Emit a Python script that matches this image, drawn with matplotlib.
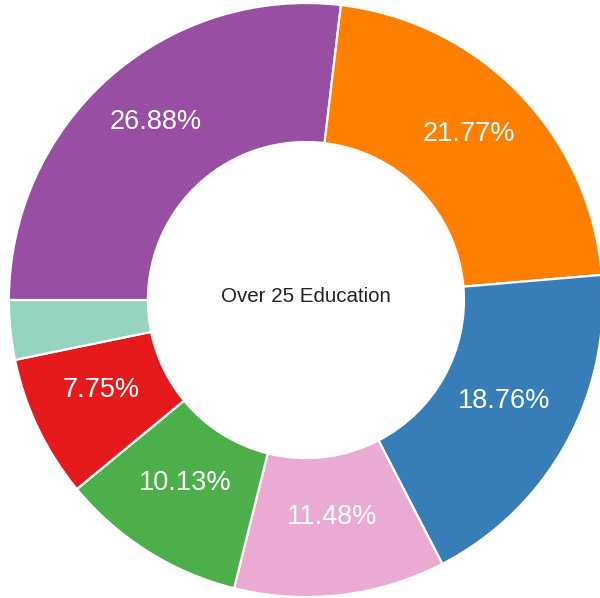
#!/usr/bin/env python3
import matplotlib
matplotlib.use("Agg")
import matplotlib.pyplot as plt

# slice order: clockwise from 9 o'clock
LABELS = ["purple", "orange", "blue", "pink", "green", "red", "teal"]
SHARES = [26.88, 21.77, 18.76, 11.48, 10.13, 7.75, 3.23]
COLORS = ["#984ea3", "#ff7f00", "#377eb8", "#ebaad4", "#4daf4a", "#e41a1c", "#96d3c0"]
CENTER_TEXT = "Over 25 Education"

plt.rcParams["font.family"] = ["Liberation Sans", "DejaVu Sans"]


def pct_label(p):
    return f"{p:.2f}%" if p > 5 else ""


def main():
    fig = plt.figure(figsize=(6.0, 5.98), dpi=100)
    ax = fig.add_axes([0, 0, 1, 1])

    wedges, _, autotexts = ax.pie(
        SHARES,
        colors=COLORS,
        startangle=180,
        counterclock=False,
        radius=1.0,
        autopct=pct_label,
        pctdistance=0.763,
        wedgeprops=dict(width=0.468, edgecolor="white", linewidth=1.6),
    )
    # labels sit a few pixels above the ring midline
    for t in autotexts:
        x, y = t.get_position()
        t.set_position((x, y + 0.028))
        t.set_color("white")
        t.set_fontsize(19.5)

    ax.text(0, 0.012, CENTER_TEXT, ha="center", va="center", fontsize=14.8, color="#222222")

    ax.set_aspect("equal")
    ax.set_xlim(-1.030, 0.990)
    ax.set_ylim(-1.003, 1.010)
    ax.axis("off")

    fig.savefig("out.png", dpi=100)
    plt.close(fig)


if __name__ == "__main__":
    main()
